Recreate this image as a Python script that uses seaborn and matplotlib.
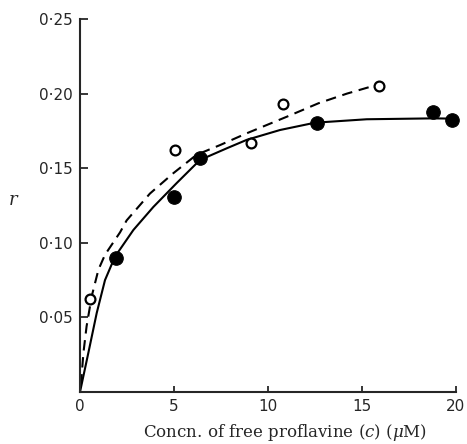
import matplotlib
matplotlib.use("Agg")
import matplotlib.pyplot as plt
import seaborn as sns
import pandas as pd

# точки
filled_x = [1.9, 5.0, 6.4, 12.6, 18.8, 19.8]
filled_y = [0.090, 0.131, 0.157, 0.180, 0.188, 0.182]

open_x = [0.55, 5.05, 9.1, 10.8, 15.9]
open_y = [0.062, 0.162, 0.167, 0.193, 0.205]

# сплошная кривая
solid_x = [0, 0.44, 0.89, 1.33, 1.86, 2.84, 3.9, 5.14, 6.38, 7.8, 8.87, 10.64, 12.5, 15.25, 18.8, 20]
solid_y = [0, 0.026, 0.053, 0.075, 0.0907, 0.1086, 0.124, 0.140, 0.1555, 0.1633, 0.169, 0.1756, 0.1805,
           0.1828, 0.1834, 0.1832]

# пунктирная кривая
dashed_x = [0.05, 0.18, 0.35, 0.62, 0.98, 1.33, 2.13, 2.48, 3.72, 4.96, 6.2, 7.45, 8.87, 11.0, 12.68,
            14.2, 15.78]
dashed_y = [0.005, 0.026, 0.044, 0.064, 0.082, 0.092, 0.107, 0.115, 0.133, 0.1466, 0.159, 0.1655, 0.1734,
            0.1845, 0.1935, 0.200, 0.2058]

x_ticks = [0, 5, 10, 15, 20]
x_labels = ['0', '5', '10', '15', '20']
y_ticks = [0.05, 0.10, 0.15, 0.20, 0.25]
y_labels = ['0·05', '0·10', '0·15', '0·20', '0·25']

sns.set_style("ticks")
plt.rcParams['font.family'] = ['DejaVu Serif']
plt.rcParams['mathtext.fontset'] = 'dejavuserif'

fig = plt.figure(figsize=(4.67, 4.44), dpi=100)
ax = fig.add_axes([80 / 467, 1 - 392 / 444, 376 / 467, 373 / 444])

solid = pd.DataFrame({'x': solid_x, 'y': solid_y})
dashed = pd.DataFrame({'x': dashed_x, 'y': dashed_y})
sns.lineplot(data=solid, x='x', y='y', sort=False, estimator=None, color='black', lw=1.5, ax=ax)
sns.lineplot(data=dashed, x='x', y='y', sort=False, estimator=None, color='black', lw=1.5,
             ax=ax).lines[-1].set_dashes([5, 3.2])

sns.scatterplot(x=filled_x, y=filled_y, color='black', s=95, edgecolor='black', ax=ax,
                clip_on=False, zorder=3)
sns.scatterplot(x=open_x, y=open_y, facecolor='white', edgecolor='black', s=50, linewidth=1.6,
                ax=ax, clip_on=False, zorder=3)

ax.set_xlim(0, 20)
ax.set_ylim(0, 0.25)
ax.set_xticks(x_ticks)
ax.set_xticklabels(x_labels, family='DejaVu Sans')
ax.set_yticks(y_ticks)
ax.set_yticklabels(y_labels, family='DejaVu Sans')
ax.tick_params(axis='both', direction='in', labelsize=11, width=1.3, pad=5)
ax.tick_params(axis='y', length=6)
ax.tick_params(axis='x', length=4)
for s in ['top', 'right']:
    ax.spines[s].set_visible(False)
for s in ['left', 'bottom']:
    ax.spines[s].set_linewidth(1.5)

ax.set_xlabel('Concn. of free proflavine ($c$) ($\\mu$M)', fontsize=12)
ax.xaxis.set_label_coords(0.545, -0.08)
ax.set_ylabel('$r$', fontsize=13, rotation=0)
ax.yaxis.set_label_coords(-0.175, 0.49)

plt.savefig('out.png', dpi=100)
